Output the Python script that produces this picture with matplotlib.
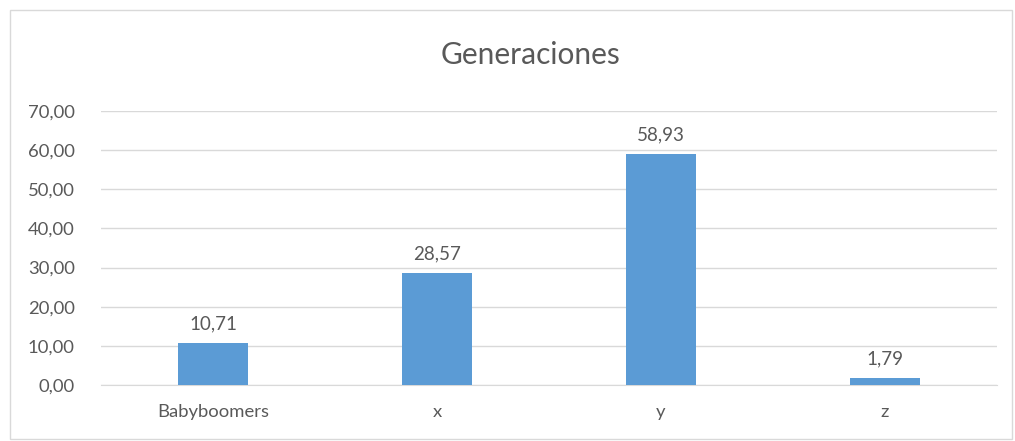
import matplotlib
matplotlib.use('Agg')
import matplotlib.pyplot as plt
from matplotlib.patches import Rectangle

categories = ['Babyboomers', 'x', 'y', 'z']
values = [10.71, 28.57, 58.93, 1.79]
yticks = [0, 10, 20, 30, 40, 50, 60, 70]

plt.rcParams['font.family'] = ['Lato', 'DejaVu Sans']
txt = '#595959'

fig = plt.figure(figsize=(10.15, 4.41), dpi=100)
ax = fig.add_axes([101/1015, 1-385/441, 896/1015, 274/441])

x = range(len(categories))
bars = ax.bar(x, values, width=0.31, color='#5B9BD5', zorder=3)
for xi, v in zip(x, values):
    ax.annotate(f'{v:.2f}'.replace('.', ','), (xi, v), xytext=(0, 8),
                textcoords='offset points', ha='center', va='bottom',
                fontsize=13.5, color=txt)

ax.set_xlim(-0.5, len(categories) - 0.5)
ax.set_ylim(0, 70)
ax.set_yticks(yticks)
ax.set_yticklabels([f'{t:.2f}'.replace('.', ',') for t in yticks])
ax.set_xticks(list(x))
ax.set_xticklabels(categories)
ax.tick_params(axis='both', length=0, labelsize=13.3, colors=txt)
ax.tick_params(axis='y', pad=19)
ax.tick_params(axis='x', pad=14)
ax.grid(axis='y', color='#D9D9D9', linewidth=1, zorder=0)
for s in ['top', 'right', 'left']:
    ax.spines[s].set_visible(False)
ax.spines['bottom'].set_color('#D9D9D9')

fig.text(530/1015, 1-55/441, 'Generaciones', ha='center', va='center',
         fontsize=21.5, color=txt)

fig.patches.append(Rectangle((10/1015, 2/441), 1002/1015, 429/441,
                             transform=fig.transFigure, fill=False,
                             edgecolor='#D9D9D9', linewidth=1))

fig.savefig('out.png', dpi=100)
